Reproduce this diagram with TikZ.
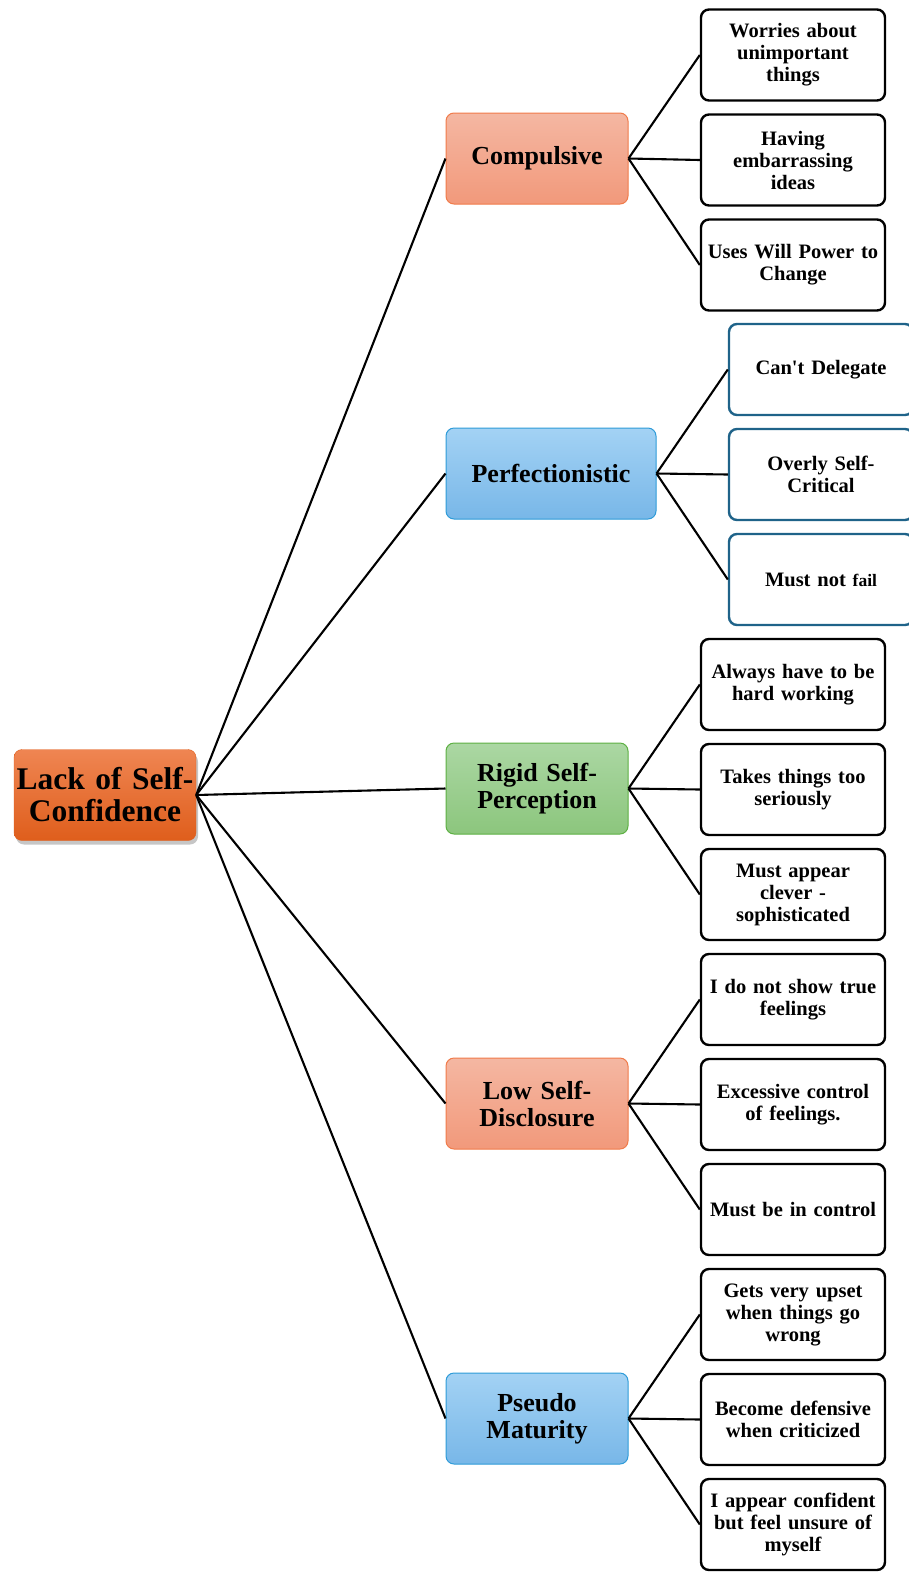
\documentclass[tikz,border=0pt]{standalone}
\usepackage{fontspec}
\setmainfont{Liberation Serif}
\usetikzlibrary{shadows}
\definecolor{rootTop}{HTML}{EF8552}
\definecolor{rootBot}{HTML}{DF5E1C}
\definecolor{salmonTop}{HTML}{F4B7A2}
\definecolor{salmonBot}{HTML}{F2997B}
\definecolor{salmonLine}{HTML}{F07B4A}
\definecolor{skyTop}{HTML}{A3D2F4}
\definecolor{skyBot}{HTML}{78B7E8}
\definecolor{skyLine}{HTML}{2E9BD8}
\definecolor{grassTop}{HTML}{ABD7A3}
\definecolor{grassBot}{HTML}{8CC67D}
\definecolor{grassLine}{HTML}{5DB043}
\definecolor{tealLine}{HTML}{1F6389}

\tikzset{
	rootbox/.style={rounded corners=8pt,draw=rootBot,top color=rootTop,bottom color=rootBot,
		minimum width=182pt,minimum height=91pt,text width=180pt,align=center,inner sep=1pt,
		font=\fontsize{31.5}{32}\selectfont\bfseries,
		drop shadow={shadow xshift=2pt,shadow yshift=-4pt,opacity=0.45}},
	catbox/.style={rounded corners=8pt,line width=1pt,minimum width=182pt,minimum height=91pt,
		text width=178pt,align=center,inner sep=2pt,font=\fontsize{26}{27}\selectfont\bfseries},
	salmon/.style={draw=salmonLine,top color=salmonTop,bottom color=salmonBot},
	sky/.style={draw=skyLine,top color=skyTop,bottom color=skyBot},
	grass/.style={draw=grassLine,top color=grassTop,bottom color=grassBot},
	leafbox/.style={draw,rounded corners=8pt,line width=2.4pt,fill=white,minimum width=184pt,
		minimum height=91pt,text width=182pt,align=center,inner sep=1pt,
		font=\fontsize{20.5}{22}\selectfont\bfseries},
	link/.style={line width=2.1pt}
}

\begin{document}
\begin{tikzpicture}[x=1pt,y=-1pt]
	\useasboundingbox (0,0) rectangle (908,1572);
	% root and branches
	\node[rootbox] (lack) at (105,795) {Lack of Self-\\Confidence};
	\node[catbox,salmon] (comp) at (537,158.5) {Compulsive};
	\node[catbox,sky,minimum width=210pt,text width=206pt] (perf) at (551,473.5) {Perfectionistic};
	\node[catbox,grass] (rigid) at (537,788.5) {Rigid Self-\\Perception};
	\node[catbox,salmon] (low) at (537,1103.5) {Low Self-\\Disclosure};
	\node[catbox,sky] (pseudo) at (537,1418.5) {Pseudo\\Maturity};
	% leaves
	\node[leafbox] (comp1) at (793,55) {Worries about\\unimportant\\things};
	\node[leafbox] (comp2) at (793,160) {Having\\embarrassing\\ideas};
	\node[leafbox] (comp3) at (793,265) {Uses Will Power to\\Change};
	\node[leafbox,draw=tealLine] (perf1) at (821,369.5) {Can\textquotesingle t Delegate};
	\node[leafbox,draw=tealLine] (perf2) at (821,474.5) {Overly Self-\\Critical};
	\node[leafbox,draw=tealLine] (perf3) at (821,579.5) {Must not {\fontsize{17.5}{22}\selectfont fail}};
	\node[leafbox] (rigid1) at (793,684.5) {Always have to be\\hard working};
	\node[leafbox] (rigid2) at (793,789.5) {Takes things too\\seriously};
	\node[leafbox] (rigid3) at (793,894.5) {Must appear\\clever -\\sophisticated};
	\node[leafbox] (low1) at (793,999.5) {I do not show true\\feelings};
	\node[leafbox] (low2) at (793,1104.5) {Excessive control\\of feelings.};
	\node[leafbox] (low3) at (793,1209.5) {Must be in control};
	\node[leafbox] (pseudo1) at (793,1314.5) {Gets very upset\\when things go\\wrong};
	\node[leafbox] (pseudo2) at (793,1419.5) {Become defensive\\when criticized};
	\node[leafbox] (pseudo3) at (793,1524.5) {I appear confident\\but feel unsure of\\myself};
	% connectors
	\draw[link] (lack.east) -- (comp.west);
	\draw[link] (lack.east) -- (perf.west);
	\draw[link] (lack.east) -- (rigid.west);
	\draw[link] (lack.east) -- (low.west);
	\draw[link] (lack.east) -- (pseudo.west);
	\draw[link] (comp.east) -- (comp1.west);
	\draw[link] (comp.east) -- (comp2.west);
	\draw[link] (comp.east) -- (comp3.west);
	\draw[link] (perf.east) -- (perf1.west);
	\draw[link] (perf.east) -- (perf2.west);
	\draw[link] (perf.east) -- (perf3.west);
	\draw[link] (rigid.east) -- (rigid1.west);
	\draw[link] (rigid.east) -- (rigid2.west);
	\draw[link] (rigid.east) -- (rigid3.west);
	\draw[link] (low.east) -- (low1.west);
	\draw[link] (low.east) -- (low2.west);
	\draw[link] (low.east) -- (low3.west);
	\draw[link] (pseudo.east) -- (pseudo1.west);
	\draw[link] (pseudo.east) -- (pseudo2.west);
	\draw[link] (pseudo.east) -- (pseudo3.west);
\end{tikzpicture}
\end{document}
